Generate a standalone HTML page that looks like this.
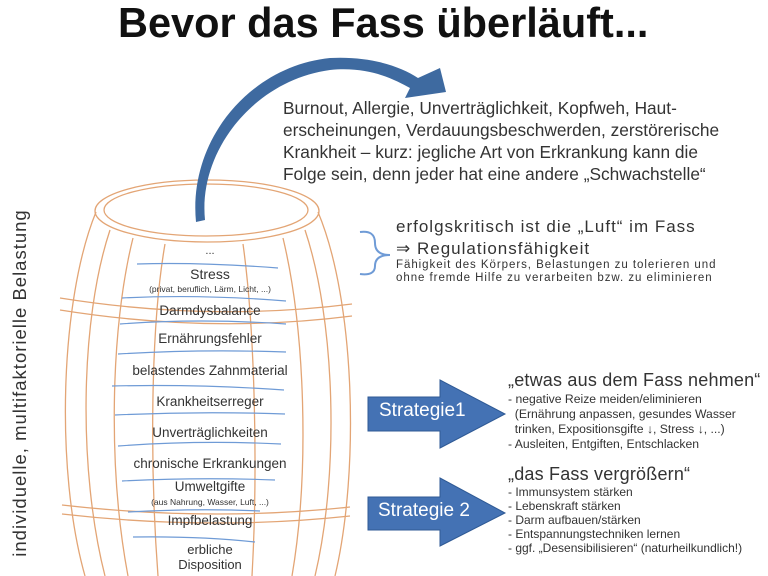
<!DOCTYPE html>
<html><head><meta charset="utf-8"><style>
body{margin:0;width:768px;height:576px;overflow:hidden;background:#fff;font-family:"Liberation Sans",sans-serif;color:#222;position:relative}
.t{position:absolute;white-space:nowrap}
.c{position:absolute;text-align:center;white-space:nowrap;color:#333;font-size:13.5px}
</style></head><body>
<svg width="768" height="576" style="position:absolute;left:0;top:0">
<g fill="none" stroke="#e3a575" stroke-width="1.3">
<ellipse cx="207" cy="211" rx="112" ry="31"/>
<ellipse cx="206" cy="210" rx="102" ry="26"/>
<path d="M96 212 C60 300 55 470 85 576"/>
<path d="M318 212 C355 300 360 470 335 576"/>
<path d="M110 230 C80 320 78 470 105 576"/>
<path d="M305 230 C335 320 340 470 315 576"/>
<path d="M133 238 C110 330 108 470 128 576"/>
<path d="M283 238 C305 330 310 470 292 576"/>
<path d="M165 244 C150 330 150 470 158 576"/>
<path d="M243 244 C255 330 258 470 252 576"/>
<path d="M60 298 Q210 322 352 304"/><path d="M60 310 Q210 334 352 316"/>
<path d="M62 505 Q210 522 350 507"/><path d="M62 514 Q210 531 350 516"/>
</g>
<g fill="none" stroke="#6f9bd6" stroke-width="1.2">
<path d="M137 264 Q200 262 278 268"/>
<path d="M122 298 Q200 294 286 301"/>
<path d="M120 324 Q200 318 286 324"/>
<path d="M118 354 Q200 349 286 352"/>
<path d="M112 386 Q200 384 284 390"/>
<path d="M115 415 Q200 411 285 414"/>
<path d="M118 446 Q200 440 281 444"/>
<path d="M122 481 Q200 477 275 480"/>
<path d="M128 512 Q200 508 260 511"/>
<path d="M133 537 Q200 536 255 542"/>
<path d="M360 232 Q375 230 375 243 Q375 255 390 255 Q375 255 375 266 Q375 276 360 274" stroke-width="2"/>
</g>
<path d="M205 220 C198 150 255 80 330 70 C370 66 395 80 410 88 L405 98 L446 92 L440 68 L418 78 C400 66 370 56 330 58 C250 66 188 140 196 222 Z" fill="#3e6aa0"/>
<polygon points="368,397 440,397 440,380 505,414 440,448 440,431 368,431" fill="#4472b4" stroke="#2f5a95"/>
<polygon points="368,497 440,497 440,478 505,513 440,546 440,530 368,530" fill="#4472b4" stroke="#2f5a95"/>
</svg>
<div class="t" style="left:118px;top:-1px;font-size:41.5px;font-weight:bold;color:#111">Bevor das Fass überläuft...</div>
<div class="t" style="left:283px;top:97px;font-size:17.3px;line-height:22px;color:#333">Burnout, Allergie, Unverträglichkeit, Kopfweh, Haut-<br>erscheinungen, Verdauungsbeschwerden, zerstörerische<br>Krankheit – kurz: jegliche Art von Erkrankung kann die<br>Folge sein, denn jeder hat eine andere „Schwachstelle“</div>
<div class="t" style="left:396px;top:216px;font-size:17px;line-height:22px;color:#333;letter-spacing:1px">erfolgskritisch ist die „Luft“ im Fass<br>⇒ Regulationsfähigkeit</div>
<div class="t" style="left:396px;top:259px;font-size:11.5px;line-height:13px;color:#333;letter-spacing:0.95px">Fähigkeit des Körpers, Belastungen zu tolerieren und<br>ohne fremde Hilfe zu verarbeiten bzw. zu eliminieren</div>
<div class="t" style="left:-165px;top:372px;width:370px;text-align:center;transform:rotate(-90deg);font-size:18.5px;letter-spacing:1px;color:#333">individuelle, multifaktorielle Belastung</div>
<div class="c" style="left:100px;width:220px;top:245px;font-size:11px">...</div>
<div class="c" style="left:100px;width:220px;top:266px;font-size:14px">Stress</div>
<div class="c" style="left:100px;width:220px;top:284px;font-size:8.5px">(privat, beruflich, Lärm, Licht, ...)</div>
<div class="c" style="left:100px;width:220px;top:303px">Darmdysbalance</div>
<div class="c" style="left:100px;width:220px;top:331px">Ernährungsfehler</div>
<div class="c" style="left:100px;width:220px;top:363px">belastendes Zahnmaterial</div>
<div class="c" style="left:100px;width:220px;top:394px">Krankheitserreger</div>
<div class="c" style="left:100px;width:220px;top:425px">Unverträglichkeiten</div>
<div class="c" style="left:100px;width:220px;top:456px">chronische Erkrankungen</div>
<div class="c" style="left:100px;width:220px;top:479px">Umweltgifte</div>
<div class="c" style="left:100px;width:220px;top:497px;font-size:8.5px">(aus Nahrung, Wasser, Luft, ...)</div>
<div class="c" style="left:100px;width:220px;top:513px">Impfbelastung</div>
<div class="c" style="left:100px;width:220px;top:542px;font-size:13px">erbliche</div>
<div class="c" style="left:100px;width:220px;top:557px;font-size:13px">Disposition</div>
<div class="t" style="left:379px;top:400px;font-size:19px;color:#fff">Strategie1</div>
<div class="t" style="left:378px;top:500px;font-size:19px;color:#fff">Strategie 2</div>
<div class="t" style="left:508px;top:370px;font-size:18px;letter-spacing:0.2px;color:#333">„etwas aus dem Fass nehmen“</div>
<div class="t" style="left:508px;top:392px;font-size:12.2px;line-height:15px;color:#333">- negative Reize meiden/eliminieren<br>&nbsp;&nbsp;(Ernährung anpassen, gesundes Wasser<br>&nbsp;&nbsp;trinken, Expositionsgifte ↓, Stress ↓, ...)<br>- Ausleiten, Entgiften, Entschlacken</div>
<div class="t" style="left:508px;top:464px;font-size:18px;letter-spacing:0.2px;color:#333">„das Fass vergrößern“</div>
<div class="t" style="left:508px;top:485px;font-size:12px;line-height:14px;color:#333">- Immunsystem stärken<br>- Lebenskraft stärken<br>- Darm aufbauen/stärken<br>- Entspannungstechniken lernen<br>- ggf. „Desensibilisieren“ (naturheilkundlich!)</div>
</body></html>
